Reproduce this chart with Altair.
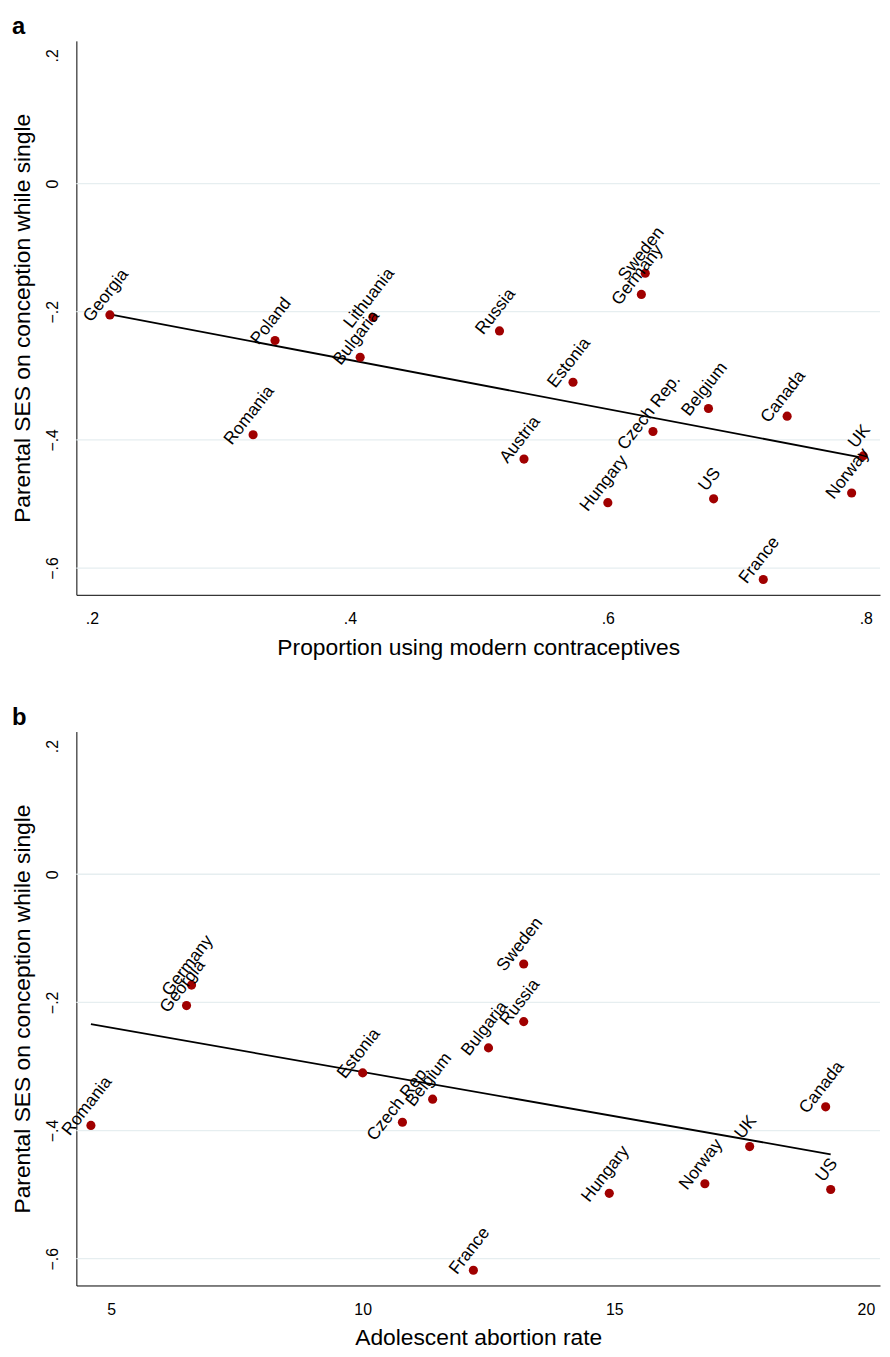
import altair as alt
import pandas as pd

# ---- data ----
countries = ["Georgia", "Poland", "Lithuania", "Bulgaria", "Romania", "Russia",
             "Estonia", "Sweden", "Germany", "Austria", "Czech Rep.", "Hungary",
             "Belgium", "US", "Canada", "UK", "Norway", "France"]
ses = [-0.205, -0.245, -0.209, -0.271, -0.392, -0.230,
       -0.310, -0.140, -0.173, -0.430, -0.387, -0.498,
       -0.351, -0.492, -0.363, -0.425, -0.483, -0.618]
contraceptive = [0.214, 0.342, 0.418, 0.408, 0.325, 0.516,
                 0.573, 0.629, 0.626, 0.535, 0.635, 0.600,
                 0.678, 0.682, 0.739, 0.798, 0.789, 0.7205]
abortion = [6.50, None, None, 12.50, 4.60, 13.20,
            10.00, 13.20, 6.60, None, 10.79, 14.90,
            11.39, 19.30, 19.20, 17.69, 16.80, 12.20]

# fitted lines (end points)
fit_a_x = [0.214, 0.798]
fit_a_y = [-0.204, -0.428]
fit_b_x = [4.60, 19.30]
fit_b_y = [-0.234, -0.437]

y_ticks = [-0.6, -0.4, -0.2, 0, 0.2]
y_grid = [-0.6, -0.4, -0.2, 0]
x_ticks_a = [0.2, 0.4, 0.6, 0.8]
x_ticks_b = [5, 10, 15, 20]

FONT = "Liberation Sans"
RED = "#a00000"
DEC = "datum.value == 0 ? '0' : replace(format(datum.value, '.1f'), '0.', '.')"

df = pd.DataFrame({"country": countries, "ses": ses,
                   "contraceptive": contraceptive, "abortion": abortion})
grid_df = pd.DataFrame({"ses": y_grid})


def panel(xfield, xtitle, xdom, xticks, xlabelexpr, fx, fy, letter):
    d = df.dropna(subset=[xfield])
    fit = pd.DataFrame({xfield: fx, "ses": fy})
    xaxis_kw = dict(values=xticks, title=xtitle, grid=False, ticks=False, tickSize=0,
                    labelPadding=16, titlePadding=10, labelFontSize=16, titleFontSize=23,
                    labelFont=FONT, titleFont=FONT, labelColor="black", titleColor="black",
                    titleFontWeight="normal", domainColor="black", domainWidth=1)
    if xlabelexpr:
        xaxis_kw["labelExpr"] = xlabelexpr
    xscale = alt.Scale(domain=xdom, nice=False, zero=False)
    yscale = alt.Scale(domain=[-0.6418, 0.2227], nice=False, zero=False)
    x = alt.X(f"{xfield}:Q", scale=xscale, axis=alt.Axis(**xaxis_kw))
    y = alt.Y("ses:Q", scale=yscale,
              axis=alt.Axis(values=y_ticks, title="Parental SES on conception while single",
                            labelExpr=DEC, labelAngle=270, labelAlign="center",
                            labelBaseline="alphabetic", labelPadding=19,
                            ticks=False, tickSize=0, grid=False,
                            labelFontSize=16, titleFontSize=23, labelFont=FONT, titleFont=FONT,
                            labelColor="black", titleColor="black", titleFontWeight="normal",
                            titlePadding=10, domainColor="black", domainWidth=1))
    grid = alt.Chart(grid_df).mark_rule(color="#e6eef0", strokeWidth=1.3).encode(
        y=alt.Y("ses:Q", scale=yscale))
    line = alt.Chart(fit).mark_line(color="black", strokeWidth=1.8).encode(x=x, y=y)
    pts = alt.Chart(d).mark_circle(size=85, color=RED, opacity=1).encode(x=x, y=y)
    lbl = alt.Chart(d).mark_text(angle=308, align="center", baseline="middle", dx=13, dy=-15,
                                 font=FONT, fontSize=17.5, color="black").encode(
        x=x, y=y, text="country:N")
    return alt.layer(grid, line, pts, lbl).properties(
        width=811, height=559,
        view=alt.ViewConfig(stroke="transparent"),
        title=alt.TitleParams(letter, anchor="start", frame="bounds", fontSize=24,
                              fontWeight="bold", font=FONT, color="black", offset=2))


pa = panel("contraceptive", "Proportion using modern contraceptives", [0.188, 0.811],
           x_ticks_a, DEC, fit_a_x, fit_a_y, "a")
pb = panel("abortion", "Adolescent abortion rate", [4.311, 20.28],
           x_ticks_b, None, fit_b_x, fit_b_y, "b")

chart = alt.vconcat(pa, pb, spacing=45).properties(
    padding={"left": 3, "top": 0, "right": 0, "bottom": 0}).configure_view(
    stroke="transparent").configure(background="white")

chart.save("out.html", embed_options={"renderer": "svg", "actions": False})
